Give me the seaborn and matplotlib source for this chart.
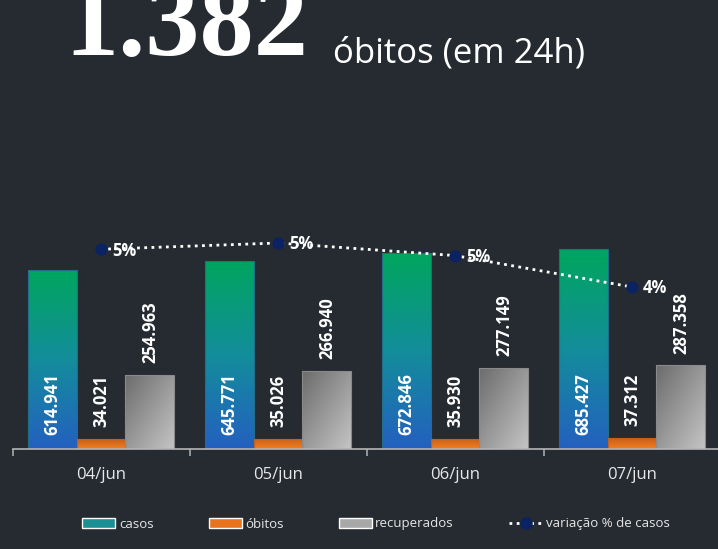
import numpy as np
import pandas as pd
import matplotlib.pyplot as plt
import seaborn as sns
from matplotlib.colors import LinearSegmentedColormap
from matplotlib.lines import Line2D
from matplotlib.patches import Patch

# dados
datas = ['04/jun', '05/jun', '06/jun', '07/jun']
series = ['casos', 'óbitos', 'recuperados']
casos = [614941, 645771, 672846, 685427]
obitos = [34021, 35026, 35930, 37312]
recuperados = [254963, 266940, 277149, 287358]
variacao = [5.2, 5.4, 5.0, 4.0]  # % de casos

bg = '#262b32'
navy = '#0b2263'

df = pd.DataFrame({
    'data': datas * 3,
    'serie': np.repeat(series, len(datas)),
    'valor': casos + obitos + recuperados,
})

sns.set_theme(style='white')
plt.rcParams['font.family'] = ['Open Sans', 'DejaVu Sans']

fig = plt.figure(figsize=(7.18, 5.49), dpi=100, facecolor=bg)
ax = fig.add_axes([12.5 / 718, 100 / 549, 708 / 718, 249 / 549])
ax.set_facecolor(bg)

sns.barplot(data=df, x='data', y='valor', hue='serie', width=0.83, gap=0,
            palette=['#1a8f94', '#e8731c', '#a8a8a8'], saturation=1,
            legend=False, ax=ax)

# gradientes
cm_casos = LinearSegmentedColormap.from_list('c', ['#2460c0', '#138d9b', '#00a65e'])
cm_obitos = LinearSegmentedColormap.from_list('o', ['#f4801f', '#c55f1a'])
cm_rec = LinearSegmentedColormap.from_list('r', ['#6c6c6c', '#c4c4c4'])
vert = np.linspace(0, 1, 200).reshape(-1, 1)
X, Y = np.meshgrid(np.linspace(0, 1, 60), np.linspace(0, 1, 200))
diag = (X + (1 - Y)) / 2

for cont, cmap, img, ec in zip(ax.containers, [cm_casos, cm_obitos, cm_rec],
                               [vert, vert, diag], ['#1f6f8a', '#c55f1a', '#8a8a8a']):
    for bar in cont:
        x0, w, h = bar.get_x(), bar.get_width(), bar.get_height()
        im = ax.imshow(img, extent=[x0, x0 + w, 0, h], aspect='auto', cmap=cmap,
                       origin='lower', zorder=bar.get_zorder() - 0.1)
        im.set_clip_path(bar)
        bar.set_facecolor('none')
        bar.set_edgecolor(ec)
        bar.set_linewidth(0.8)

fmt = lambda v: f"{v:,}".replace(',', '.')
for bar, v in zip(ax.containers[0], casos):
    ax.annotate(fmt(v), (bar.get_x() + bar.get_width() / 2, 0), xytext=(0, 10),
                textcoords='offset points', rotation=90, ha='center', va='bottom',
                color='white', fontsize=12, fontweight='bold', zorder=5)
for cont, vals in zip(ax.containers[1:], [obitos, recuperados]):
    for bar, v in zip(cont, vals):
        ax.annotate(fmt(v), (bar.get_x() + bar.get_width() / 2, bar.get_height()),
                    xytext=(0, 8.5), textcoords='offset points', rotation=90,
                    ha='center', va='bottom', color='white', fontsize=12,
                    fontweight='bold', zorder=5)

ax.set_xlim(-0.5, 3.5)
ax.set_ylim(0, 855000)
ax.set_xlabel('')
ax.set_ylabel('')
ax.set_yticks([])
ax.set_xticks(range(len(datas)), datas)
ax.set_xticks(np.arange(-0.5, len(datas), 1), minor=True)
ax.tick_params(axis='x', which='major', length=0, pad=13, labelsize=12, labelcolor='#e8e8e8')
ax.tick_params(axis='x', which='minor', length=5, width=1.1, color='#b4b4b4', bottom=True)
for s in ['left', 'top', 'right']:
    ax.spines[s].set_visible(False)
ax.spines['bottom'].set_color('#b4b4b4')
ax.spines['bottom'].set_linewidth(1.2)

# variação % de casos
ax2 = ax.twinx()
sns.lineplot(x=np.arange(len(datas)), y=variacao, ax=ax2, color='white', lw=2,
             linestyle=(0, (1, 1.6)), marker='o', markersize=8,
             markerfacecolor=navy, markeredgecolor=navy, zorder=4)
for i, v in enumerate(variacao):
    ax2.annotate(f"{v:.0f}%", (i, v), xytext=(8, -1), textcoords='offset points',
                 ha='left', va='center', color='white', fontsize=12, fontweight='bold')
ax2.set_ylim(-1.154, 6.768)
ax2.set_xlim(-0.5, 3.5)
ax2.axis('off')

# título (cortado no topo, como no original)
fig.text(64 / 718, 1 - 55 / 549, '1.382', fontsize=78, fontweight='bold',
         family='Liberation Serif', color='white', va='baseline')
fig.text(333 / 718, 1 - 63 / 549, 'óbitos (em 24h)', fontsize=25, color='white',
         va='baseline')

handles = [Patch(facecolor='#1a8f94'), Patch(facecolor='#e8731c'),
           Patch(facecolor='#a8a8a8'),
           Line2D([], [], color='white', lw=2, linestyle=(0, (1, 1.6)), marker='o',
                  markersize=8, markerfacecolor=navy, markeredgecolor=navy)]
fig.legend(handles, ['casos', 'óbitos', 'recuperados', 'variação % de casos'],
           loc='center', bbox_to_anchor=(376 / 718, 25 / 549), ncol=4, frameon=False,
           fontsize=9.5, labelcolor='#e6e6e6', handlelength=2.5, handleheight=0.7,
           handletextpad=0.25, columnspacing=4.2)

fig.savefig('out.png', dpi=100, facecolor=bg)
